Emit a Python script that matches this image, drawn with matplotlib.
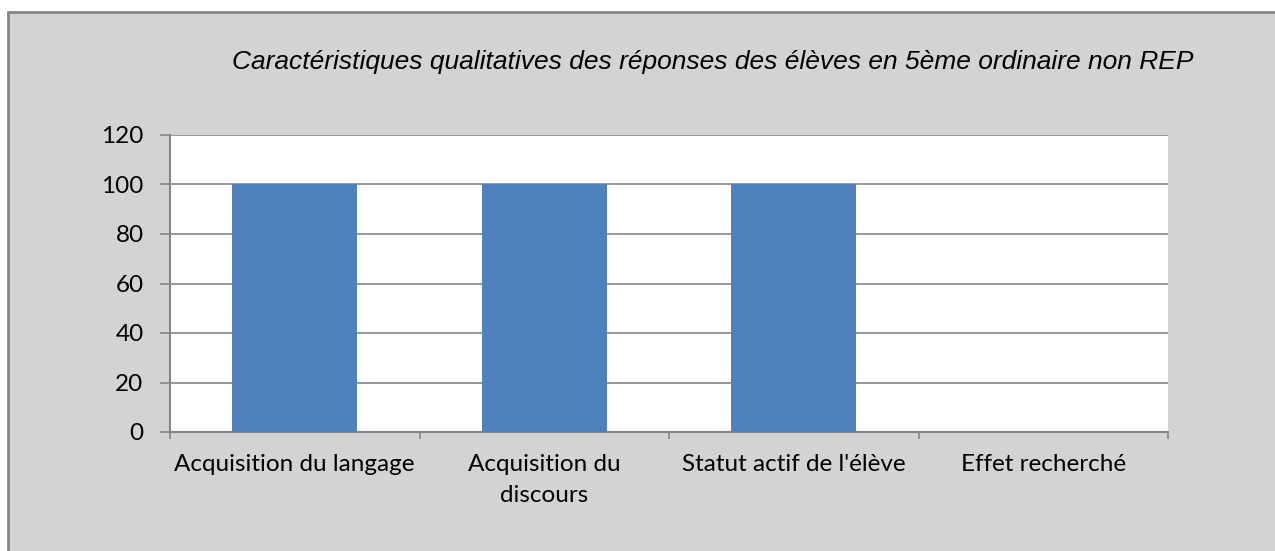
import numpy as np
import matplotlib.pyplot as plt
from matplotlib.patches import Rectangle

# Chart data
categories = ["Acquisition du langage", "Acquisition du\ndiscours",
              "Statut actif de l'élève", "Effet recherché"]
values = [100, 100, 100, 0]
yticks = [0, 20, 40, 60, 80, 100, 120]
title = "Caractéristiques qualitatives des réponses des élèves en 5ème ordinaire non REP"

bar_color = "#4F81BD"
grid_color = "#868686"
bg_color = "#D3D3D3"
label_font = "Lato"
label_size = 17.5

fig = plt.figure(figsize=(12.75, 5.51), dpi=100)
fig.patch.set_facecolor("white")

# grey chart frame with a darker outline on the top and left edges
frame = Rectangle((8 / 1275, -0.1), 1.2, 1.1 - 12 / 551, transform=fig.transFigure,
                  facecolor=bg_color, edgecolor=grid_color, linewidth=2.0, zorder=-1)
fig.add_artist(frame)

ax = fig.add_axes([170 / 1275, 1 - 432 / 551, 998 / 1275, 297 / 551])
ax.set_facecolor("white")

x = np.arange(len(categories))
ax.bar(x, values, width=0.5, color=bar_color, zorder=3)

ax.set_xlim(-0.5, len(categories) - 0.5)
ax.set_ylim(0, 120)
ax.set_yticks(yticks)
ax.yaxis.grid(True, color=grid_color, linewidth=1.2, zorder=1)
ax.set_axisbelow(True)

# category ticks sit on the boundaries between groups
ax.set_xticks(np.arange(len(categories) + 1) - 0.5)
ax.set_xticklabels([])
ax.set_xticks(x, minor=True)
ax.set_xticklabels(categories, minor=True, fontsize=label_size, family=label_font,
                   linespacing=1.55)
ax.tick_params(axis="x", which="minor", length=0, pad=16)
ax.tick_params(axis="x", which="major", length=5, color=grid_color, width=1.2)
ax.tick_params(axis="y", length=7, color=grid_color, width=1.2, pad=12)
for lbl in ax.get_yticklabels():
    lbl.set_fontsize(label_size)
    lbl.set_family(label_font)

for side in ["top", "right"]:
    ax.spines[side].set_visible(False)
for side in ["left", "bottom"]:
    ax.spines[side].set_color(grid_color)
    ax.spines[side].set_linewidth(1.5)

fig.text(713 / 1275, 1 - 62 / 551, title, ha="center", va="center",
         fontsize=19, style="italic", family="Liberation Sans")

fig.savefig("out.png", dpi=100)
